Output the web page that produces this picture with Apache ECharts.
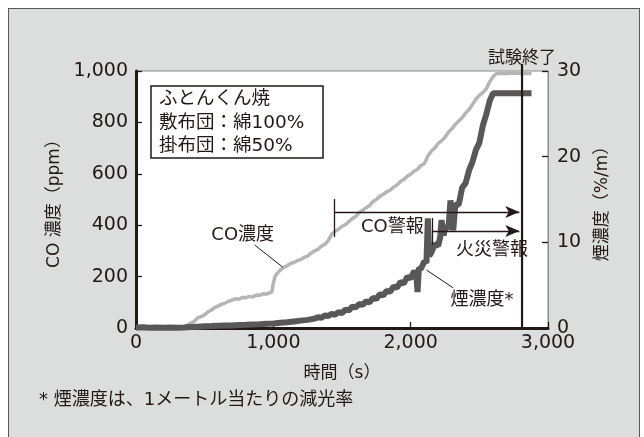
<!DOCTYPE html>
<html><head><meta charset="utf-8">
<script src="https://cdn.jsdelivr.net/npm/echarts@6/dist/echarts.min.js"></script>
<style>
html,body{margin:0;padding:0;background:#fff;}
#frame{position:absolute;left:8px;top:8px;width:632px;height:440px;background:#dcdddd;border:1.3px solid #595757;box-sizing:border-box;}
#chart{position:absolute;left:0;top:0;width:644px;height:437px;}
</style></head>
<body>
<div id="frame"></div>
<div id="chart"></div>
<script>
// ---- data ----
const coTime = [
  0,50,100,150,200,250,300,350,400,425,
  450,475,500,525,550,575,600,625,650,675,
  700,725,750,775,800,825,850,875,900,925,
  950,975,990,1000,1012,1025,1050,1075,1100,1125,
  1150,1175,1200,1225,1250,1275,1300,1325,1350,1375,
  1400,1425,1450,1475,1500,1525,1550,1575,1600,1625,
  1650,1675,1700,1725,1750,1775,1800,1825,1850,1875,
  1900,1925,1950,1975,2000,2025,2050,2075,2100,2125,
  2150,2175,2200,2225,2250,2275,2300,2325,2350,2375,
  2400,2425,2450,2475,2500,2525,2550,2575,2600,2625,
  2650,2700,2750,2800,2850,2880];
const coPpm = [
  2,1,4,0,3,1,2,3,20,26,
  40,44,52,63,70,80,86,93,97,104,
  108,114,112,119,118,123,121,128,127,133,
  132,138,140,175,200,210,225,236,242,251,
  255,262,266,275,280,291,300,306,318,326,
  340,365,376,384,396,402,414,426,434,449,
  458,468,476,492,500,512,520,530,536,548,
  556,570,578,590,598,610,618,632,640,668,
  688,700,718,728,742,762,775,792,806,818,
  836,850,870,890,905,916,930,958,978,990,
  991,990,992,990,991,990];

const smokeTime = [
  0,50,100,150,200,250,300,350,400,450,
  500,550,600,650,700,750,800,850,900,950,
  1000,1050,1100,1150,1200,1250,1300,1325,1350,1375,
  1400,1425,1450,1475,1500,1525,1550,1575,1600,1625,
  1650,1675,1700,1725,1750,1775,1800,1825,1850,1875,
  1900,1925,1950,1975,2000,2025,2040,2050,2060,2075,
  2100,2115,2125,2135,2150,2175,2200,2215,2225,2240,
  2250,2275,2290,2300,2310,2325,2350,2375,2400,2425,
  2450,2475,2500,2525,2550,2575,2600,2650,2700,2750,
  2800,2850,2880];
const smokeVal = [
  0.05,0.08,0.03,0.06,0.02,0.07,0.03,0.06,0.12,0.16,
  0.2,0.22,0.26,0.3,0.3,0.36,0.38,0.42,0.45,0.5,
  0.52,0.6,0.66,0.76,0.86,0.95,1.1,1.25,1.2,1.45,
  1.4,1.65,1.55,1.85,1.75,2.15,2.05,2.5,2.4,2.8,
  2.7,3.1,3.0,3.5,3.4,3.95,3.8,4.35,4.2,4.85,
  4.7,5.35,5.2,5.95,5.8,6.6,6.4,4.2,7.0,6.9,
  7.8,7.6,12.8,8.4,8.8,9.8,9.6,10.6,12.6,10.8,
  11.8,11.6,14.9,12.9,11.4,14.4,14.4,16.4,16.9,18.4,
  19.4,20.8,21.6,23.6,24.9,26.5,27.4,27.4,27.4,27.4,
  27.4,27.4,27.4];

const xTicks = {min:0, max:3000, interval:1000};
const coTicks = {min:0, max:1000, interval:200};
const smokeTicks = {min:0, max:30, interval:10};

// annotation values (data units: time s, CO ppm)
const coAlarmTime = 1445, fireAlarmTime = 2157, testEndTime = 2811;
const coAlarmLevel = 451, fireAlarmLevel = 377;
const testEndLine = [[testEndTime,0],[testEndTime,1027]];

const ink = '#231815';
const chart = echarts.init(document.getElementById('chart'), null, {renderer:'canvas'});
const zip = (a,b)=>a.map((v,i)=>[v,b[i]]);
const jp = '"DejaVu Sans", "Noto Sans CJK JP", sans-serif';
const num = '"DejaVu Sans", sans-serif';

chart.setOption({
  backgroundColor:'transparent',
  animation:false,
  grid:{left:136,right:96,top:71,bottom:109,show:true,backgroundColor:'#fff',borderColor:'#8a8a8a',borderWidth:1},
  xAxis:{type:'value',...xTicks,
    name:'時間（s）',nameLocation:'middle',nameGap:37,
    nameTextStyle:{fontFamily:jp,fontSize:17,color:ink},
    axisLine:{lineStyle:{color:ink,width:3}},
    axisTick:{inside:true,length:6,lineStyle:{color:ink,width:1.3}},
    splitLine:{show:false},
    axisLabel:{fontFamily:num,fontSize:19,color:ink,margin:6}},
  yAxis:[
    {type:'value',...coTicks,position:'left',
      name:'CO 濃度（ppm）',nameLocation:'middle',nameGap:64,nameRotate:90,
      nameTextStyle:{fontFamily:jp,fontSize:17,color:ink},
      axisLine:{show:true,lineStyle:{color:ink,width:3}},
      axisTick:{show:true,inside:true,length:6,lineStyle:{color:ink,width:1.3}},
      splitLine:{show:false},
      axisLabel:{fontFamily:num,fontSize:19,color:ink,margin:8}},
    {type:'value',...smokeTicks,position:'right',
      name:'煙濃度（%/m）',nameLocation:'middle',nameGap:46,nameRotate:90,
      nameTextStyle:{fontFamily:jp,fontSize:17,color:ink},
      axisLine:{show:true,lineStyle:{color:'#8a8a8a',width:1}},
      axisTick:{show:true,inside:true,length:6,lineStyle:{color:ink,width:1.3}},
      splitLine:{show:false},
      axisLabel:{fontFamily:num,fontSize:19,color:ink,margin:9}}
  ],
  series:[
    {name:'CO濃度',type:'line',yAxisIndex:0,data:zip(coTime,coPpm),showSymbol:false,symbol:'none',
      lineStyle:{color:'#b5b5b6',width:3.5},z:3},
    {name:'煙濃度',type:'line',yAxisIndex:1,data:zip(smokeTime,smokeVal),showSymbol:false,symbol:'none',
      lineStyle:{color:'#595757',width:6},z:4},
    {name:'試験終了',type:'line',yAxisIndex:0,data:testEndLine,clip:false,showSymbol:false,symbol:'none',
      lineStyle:{color:ink,width:2.2},z:7},
    {name:'annot',type:'line',yAxisIndex:0,data:[],clip:false,z:6,
      markLine:{silent:true,symbol:['none','none'],animation:false,
        label:{show:false},
        lineStyle:{color:ink,width:1.3,type:'solid'},
        data:[
          // CO alarm tick and arrow
          [{coord:[coAlarmTime,354]},{coord:[coAlarmTime,502]}],
          [{coord:[coAlarmTime,coAlarmLevel]},{coord:[testEndTime-20,coAlarmLevel],symbol:'arrow',symbolSize:[9,14]}],
          // fire alarm tick and arrow
          [{coord:[fireAlarmTime,323]},{coord:[fireAlarmTime,428]}],
          [{coord:[fireAlarmTime,fireAlarmLevel]},{coord:[testEndTime-20,fireAlarmLevel],symbol:'arrow',symbolSize:[9,14]}],
          // leader lines
          [{coord:[864,323],lineStyle:{width:1}},{coord:[1068,237]}],
          [{coord:[2114,226],lineStyle:{width:1}},{coord:[2310,156]}]
        ]},
      markPoint:{silent:true,symbol:'circle',symbolSize:0,animation:false,
        label:{show:true,position:'inside',fontFamily:jp,fontSize:18,color:ink},
        data:[
          {coord:[777,362],label:{formatter:'CO濃度'}},
          {coord:[2520,109],label:{formatter:'煙濃度*'}},
          {coord:[1867,393],label:{formatter:'CO警報'}},
          {coord:[2593,304],label:{formatter:'火災警報'}},
          {coord:[testEndTime,1000],label:{formatter:'試験終了',fontSize:17,offset:[0,-12]}}
        ]}
    }
  ],
  graphic:[
    {type:'group',z:100,children:[
      {type:'rect',shape:{x:151,y:86,width:172,height:72},style:{fill:'#fff',stroke:ink,lineWidth:1.5}},
      {type:'text',x:159,y:99,style:{text:'ふとんくん焼',font:'18.5px '+jp,fill:ink,verticalAlign:'middle'}},
      {type:'text',x:159,y:123,style:{text:'敷布団：綿100%',font:'18.5px '+jp,fill:ink,verticalAlign:'middle'}},
      {type:'text',x:159,y:146,style:{text:'掛布団：綿50%',font:'18.5px '+jp,fill:ink,verticalAlign:'middle'}}
    ]},
    {type:'text',x:39,y:400,z:100,style:{text:'* 煙濃度は、1メートル当たりの減光率',font:'18px '+jp,fill:ink,verticalAlign:'middle'}}
  ]
});
</script>
</body></html>
